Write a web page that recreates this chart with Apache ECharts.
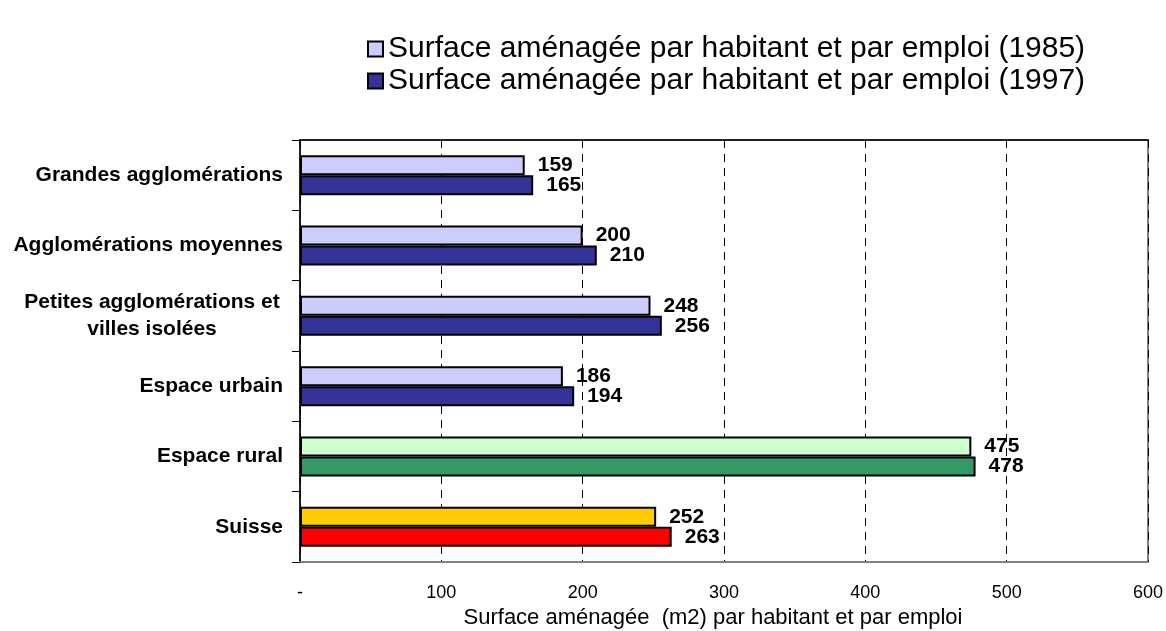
<!DOCTYPE html>
<html>
<head>
<meta charset="utf-8">
<script src="https://cdn.jsdelivr.net/npm/echarts@6/dist/echarts.min.js"></script>
<style>
  html, body { margin: 0; padding: 0; background: #fff; }
  #chart { width: 1166px; height: 631px; }
</style>
</head>
<body>
<div id="chart"></div>
<script>
const categories = [
  'Grandes agglomérations',
  'Agglomérations moyennes',
  'Petites agglomérations et\nvilles isolées',
  'Espace urbain',
  'Espace rural',
  'Suisse'
]
const values1985 = [159, 200, 248, 186, 475, 252]
const values1997 = [165, 210, 256, 194, 478, 263]
const seriesNames = [
  'Surface aménagée par habitant et par emploi (1985)',
  'Surface aménagée par habitant et par emploi (1997)'
]
// couleurs par défaut + exceptions (rural, Suisse)
const colors1985 = ['#CCCCFF', '#CCCCFF', '#CCCCFF', '#CCCCFF', '#CCFFCC', '#FFCC00']
const colors1997 = ['#333399', '#333399', '#333399', '#333399', '#339966', '#FF0000']

const font = '"Liberation Sans", Arial, sans-serif'

function buildData(values, colors) {
  return values.map((v, i) => ({ value: v, itemStyle: { color: colors[i] } }))
}

const labelStyle = {
  show: true,
  position: 'right',
  distance: 13,
  color: '#000',
  fontWeight: 'bold',
  fontSize: 21,
  fontFamily: font
}

const chart = echarts.init(document.getElementById('chart'))
chart.setOption({
  animation: false,
  textStyle: { fontFamily: font },
  legend: {
    orient: 'vertical',
    left: 362,
    top: 29,
    itemWidth: 15,
    itemHeight: 15,
    itemGap: 2,
    icon: 'rect',
    textStyle: { fontSize: 30, color: '#000', lineHeight: 30 },
    data: seriesNames
  },
  grid: {
    left: 300,
    right: 18,
    top: 140,
    bottom: 69,
    outerBoundsMode: 'none',
    show: true,
    borderColor: '#808080',
    borderWidth: 2
  },
  xAxis: [{
    type: 'value',
    min: 0,
    max: 600,
    interval: 100,
    name: 'Surface aménagée  (m2) par habitant et par emploi',
    nameLocation: 'middle',
    nameGap: 41,
    nameTextStyle: { fontSize: 22, color: '#000', padding: [0, 22, 0, 0] },
    axisLine: { show: true, lineStyle: { color: '#808080', width: 2 } },
    axisTick: { show: false },
    axisLabel: {
      fontSize: 18,
      color: '#000',
      margin: 22,
      formatter: v => (v === 0 ? '-' : v)
    },
    splitLine: {
      show: true,
      lineStyle: { color: '#000', type: [8, 6], width: 1 }
    }
  }, {
    // ligne du haut en noir
    type: 'value',
    position: 'top',
    min: 0,
    max: 600,
    axisLine: { show: true, lineStyle: { color: '#000', width: 1.5 } },
    axisTick: { show: false },
    axisLabel: { show: false },
    splitLine: { show: false }
  }],
  yAxis: {
    type: 'category',
    inverse: true,
    data: categories,
    axisLine: { show: true, lineStyle: { color: '#000', width: 1.5 } },
    axisTick: { show: true, inside: false, length: 8, lineStyle: { color: '#000' } },
    axisLabel: {
      margin: 17,
      color: '#000',
      fontSize: 21,
      fontWeight: 'bold',
      lineHeight: 27,
      formatter: v => {
        if (v.indexOf('\n') >= 0) {
          return v.split('\n').map(s => '{c|' + s + '}').join('\n')
        }
        return v
      },
      rich: {
        c: {
          width: 262,
          align: 'center',
          fontSize: 21,
          fontWeight: 'bold',
          color: '#000',
          lineHeight: 27
        }
      }
    }
  },
  series: [
    {
      name: seriesNames[0],
      type: 'bar',
      barWidth: 20,
      barGap: '0%',
      itemStyle: { color: '#CCCCFF', borderColor: '#000', borderWidth: 2 },
      label: labelStyle,
      data: buildData(values1985, colors1985)
    },
    {
      name: seriesNames[1],
      type: 'bar',
      barWidth: 20,
      barGap: '0%',
      itemStyle: { color: '#333399', borderColor: '#000', borderWidth: 2 },
      label: labelStyle,
      data: buildData(values1997, colors1997)
    }
  ]
})
</script>
</body>
</html>
